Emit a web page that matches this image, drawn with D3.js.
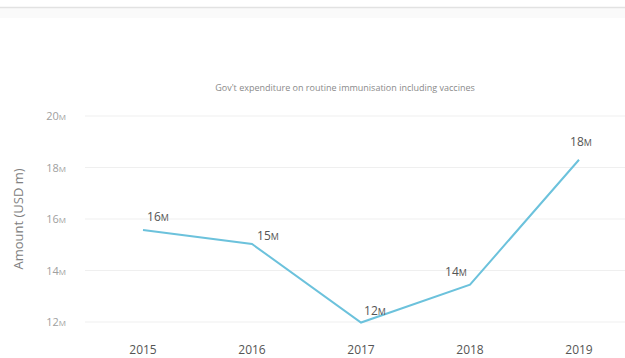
<!DOCTYPE html>
<html>
<head>
<meta charset="utf-8">
<script src="https://cdn.jsdelivr.net/npm/d3@7"></script>
<style>
  html, body { margin: 0; padding: 0; background: #fff; }
  svg { display: block; font-family: "Open Sans", "Noto Sans", sans-serif; }
</style>
</head>
<body>
<svg id="chart" width="625" height="358"></svg>
<script>
// Government spending on routine immunisation, USD millions
const years = ["2015", "2016", "2017", "2018", "2019"];
const spending = [15.57, 15.03, 11.98, 13.45, 18.3];
const valueLabels = ["16", "15", "12", "14", "18"];
const yTicks = [12, 14, 16, 18, 20];

const title = "Gov't expenditure on routine immunisation including vaccines";
const yTitle = "Amount (USD m)";

const svg = d3.select("#chart");
const W = 625, H = 358;

// Header rule and light band across the top
svg.append("rect").attr("x", 0).attr("y", 7).attr("width", W).attr("height", 11).attr("fill", "#fafafa");
svg.append("line").attr("x1", 0).attr("x2", W).attr("y1", 7.5).attr("y2", 7.5)
  .attr("stroke", "#e2e2e2").attr("stroke-width", 1.5);

const x = d3.scalePoint().domain(years).range([143, 579]);
const y = d3.scaleLinear().domain([12, 20]).range([322, 116]);

// Gridlines
svg.append("g").selectAll("line").data(yTicks).join("line")
  .attr("x1", 85).attr("x2", W)
  .attr("y1", d => y(d)).attr("y2", d => y(d))
  .attr("stroke", "#efefef").attr("stroke-width", 1);

// Y tick labels with small "M" suffix
const yt = svg.append("g").selectAll("text").data(yTicks).join("text")
  .attr("x", 66).attr("y", d => y(d) + 4)
  .attr("text-anchor", "end")
  .attr("fill", "#a0a0a0").attr("font-size", 11);
yt.append("tspan").text(d => d);
yt.append("tspan").attr("font-size", 8).text("M");

// Y axis title
svg.append("text")
  .attr("transform", `translate(23,${219}) rotate(-90)`)
  .attr("text-anchor", "middle")
  .attr("fill", "#808080").attr("font-size", 13)
  .text(yTitle);

// X axis labels
svg.append("g").selectAll("text").data(years).join("text")
  .attr("x", d => x(d)).attr("y", 354)
  .attr("text-anchor", "middle")
  .attr("fill", "#555").attr("font-size", 12)
  .text(d => d);

// Chart title
svg.append("text")
  .attr("x", 345).attr("y", 91)
  .attr("text-anchor", "middle")
  .attr("fill", "#8a8a8a").attr("font-size", 9)
  .text(title);

// Line
const pts = years.map((yr, i) => ({ yr, v: spending[i], lab: valueLabels[i] }));
svg.append("path").datum(pts)
  .attr("fill", "none")
  .attr("stroke", "#6cc2dc").attr("stroke-width", 2)
  .attr("stroke-linejoin", "miter")
  .attr("d", d3.line().x(d => x(d.yr)).y(d => y(d.v)));

// Value labels
const offsets = [[15, -9], [16, -4], [14, -8], [-14, -9], [2, -14]];
const vl = svg.append("g").selectAll("text").data(pts).join("text")
  .attr("x", (d, i) => x(d.yr) + offsets[i][0])
  .attr("y", (d, i) => y(d.v) + offsets[i][1])
  .attr("text-anchor", "middle")
  .attr("fill", "#555").attr("font-size", 12);
vl.append("tspan").text(d => d.lab);
vl.append("tspan").attr("font-size", 9).text("M");
</script>
</body>
</html>
